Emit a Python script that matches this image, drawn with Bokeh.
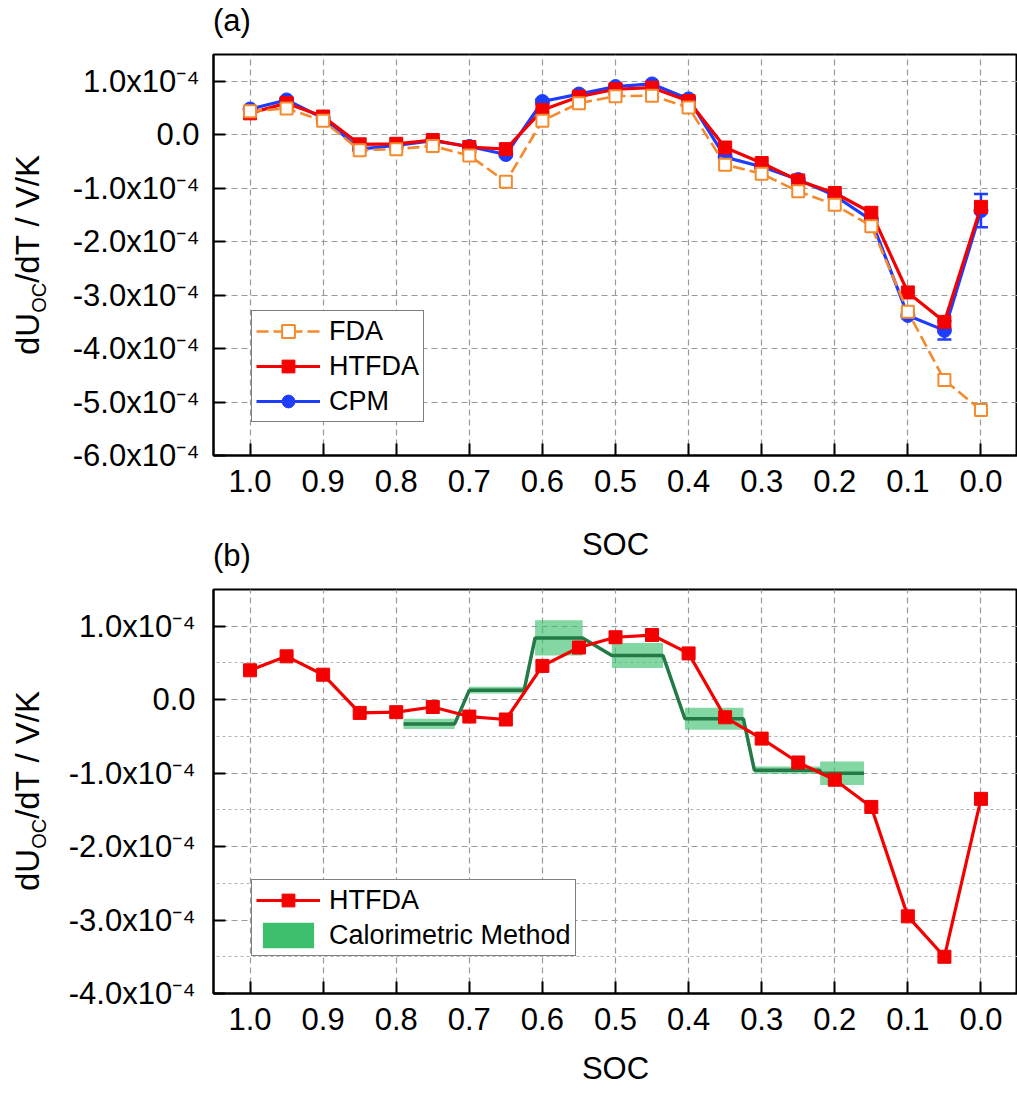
from bokeh.plotting import figure
from bokeh.models import (ColumnDataSource, Range1d, FixedTicker, Legend,
                          LegendItem, Whisker, TeeHead, Div)
from bokeh.layouts import column, row
from bokeh.embed import file_html
from bokeh.resources import INLINE

# ---------------- data (dUoc/dT values in units of 1e-4 V/K) ----------------
soc = [1.0, 0.95, 0.9, 0.85, 0.8, 0.75, 0.7, 0.65, 0.6, 0.55, 0.5,
       0.45, 0.4, 0.35, 0.3, 0.25, 0.2, 0.15, 0.1, 0.05, 0.0]
fda = [0.44, 0.49, 0.26, -0.29, -0.27, -0.21, -0.39, -0.88, 0.26, 0.59, 0.72,
       0.73, 0.51, -0.56, -0.73, -1.06, -1.31, -1.71, -3.31, -4.59, -5.15]
htfda = [0.40, 0.59, 0.34, -0.18, -0.17, -0.10, -0.23, -0.27, 0.46, 0.71, 0.85,
         0.88, 0.63, -0.24, -0.53, -0.855, -1.09, -1.46, -2.95, -3.50, -1.35]
cpm = [0.48, 0.65, 0.31, -0.27, -0.20, -0.11, -0.22, -0.37, 0.62, 0.76, 0.90,
       0.95, 0.67, -0.42, -0.60, -0.84, -1.14, -1.60, -3.38, -3.66, -1.42]
cpm_err = [0.03, 0.03, 0.03, 0.03, 0.03, 0.03, 0.03, 0.03, 0.04, 0.03, 0.03,
           0.03, 0.03, 0.04, 0.04, 0.04, 0.04, 0.04, 0.05, 0.17, 0.31]

# calorimetric method: SOC intervals, mean value and uncertainty
cal_soc_start = [0.79, 0.70, 0.61, 0.505, 0.405, 0.31, 0.22]
cal_soc_end = [0.72, 0.625, 0.545, 0.435, 0.325, 0.22, 0.16]
cal_value = [-0.33, 0.13, 0.84, 0.60, -0.26, -0.96, -1.00]
cal_err = [0.07, 0.045, 0.24, 0.17, 0.15, 0.05, 0.16]

xticks = [1.0, 0.9, 0.8, 0.7, 0.6, 0.5, 0.4, 0.3, 0.2, 0.1, 0.0]
xtick_labels = ["1.0", "0.9", "0.8", "0.7", "0.6", "0.5", "0.4", "0.3", "0.2", "0.1", "0.0"]
yticks_a = [-6, -5, -4, -3, -2, -1, 0, 1]
ytick_labels_a = ["-6.0x10\u207b\u2074", "-5.0x10\u207b\u2074", "-4.0x10\u207b\u2074",
                  "-3.0x10\u207b\u2074", "-2.0x10\u207b\u2074", "-1.0x10\u207b\u2074",
                  "0.0", "1.0x10\u207b\u2074"]
yticks_b = [-4, -3, -2, -1, 0, 1]
ytick_labels_b = ["-4.0x10\u207b\u2074", "-3.0x10\u207b\u2074", "-2.0x10\u207b\u2074",
                  "-1.0x10\u207b\u2074", "0.0", "1.0x10\u207b\u2074"]
yminor_b = [-3.5, -2.5, -1.5, -0.5, 0.5]
panel_titles = ["(a)", "(b)"]

# ---------------- style ----------------
FONT = "Liberation Sans"
ORANGE = "#f58a2c"
RED = "#f40000"
BLUE = "#1f3dff"
DKGREEN = "#237a46"
GREEN = "#3dc06e"
GRID = "#9a9a9a"
FS = "31px"
LEFT_W = 45


def make_fig(height, top, bottom, yr, yt, ylab, xlabel_standoff, yminor=None):
    p = figure(width=1017 - LEFT_W, height=height, x_range=Range1d(1.05, -0.05),
               y_range=Range1d(*yr), min_border_left=213 - LEFT_W, min_border_right=0,
               min_border_top=top, min_border_bottom=bottom,
               toolbar_location=None, output_backend="svg")
    p.background_fill_color = "white"
    p.border_fill_color = "white"
    p.outline_line_color = "black"
    p.outline_line_width = 2
    p.xaxis.ticker = FixedTicker(ticks=xticks)
    p.xaxis.major_label_overrides = dict(zip(xticks, xtick_labels))
    if yminor is not None:
        p.yaxis.ticker = FixedTicker(ticks=yt, minor_ticks=yminor)
    else:
        p.yaxis.ticker = FixedTicker(ticks=yt)
    p.yaxis.major_label_overrides = dict(zip(yt, ylab))
    for ax in (p.xaxis, p.yaxis):
        ax.axis_line_width = 2
        ax.axis_line_color = "black"
        ax.major_tick_in = 12
        ax.major_tick_out = 0
        ax.major_tick_line_width = 2
        ax.major_tick_line_color = "black"
        ax.minor_tick_line_color = None
        ax.major_label_text_font = FONT
        ax.major_label_text_font_size = FS
        ax.major_label_text_color = "black"
        ax.major_label_standoff = 14
    p.xaxis.axis_label = "SOC"
    p.xaxis.axis_label_text_font = FONT
    p.xaxis.axis_label_text_font_size = FS
    p.xaxis.axis_label_text_font_style = "normal"
    p.xaxis.axis_label_text_color = "black"
    p.xaxis.axis_label_standoff = xlabel_standoff
    for g in (p.xgrid, p.ygrid):
        g.grid_line_color = GRID
        g.grid_line_dash = "6 4"
        g.grid_line_width = 1.2
    if yminor is not None:
        p.ygrid.minor_grid_line_color = "#b4b4b4"
        p.ygrid.minor_grid_line_dash = "3 3"
        p.ygrid.minor_grid_line_width = 1.0
    return p


def style_legend(leg, loc):
    leg.location = loc
    leg.margin = 0
    leg.padding = 4
    leg.spacing = 3
    leg.glyph_width = 64
    leg.glyph_height = 32
    leg.label_standoff = 9
    leg.label_text_font = FONT
    leg.label_text_font_size = "27px"
    leg.label_text_color = "black"
    leg.label_text_baseline = "middle"
    leg.border_line_color = "black"
    leg.border_line_width = 1.3
    leg.background_fill_color = "white"
    leg.background_fill_alpha = 1.0
    leg.inactive_fill_alpha = 0.0


# ---------------- panel (a) ----------------
src = ColumnDataSource(dict(
    soc=soc, fda=fda, htfda=htfda, cpm=cpm,
    cpm_up=[c + e for c, e in zip(cpm, cpm_err)],
    cpm_lo=[c - e for c, e in zip(cpm, cpm_err)],
))

p1 = make_fig(575, 54, 120, (-6.0, 1.5), yticks_a, ytick_labels_a, 32)

cpm_line = p1.line("soc", "cpm", source=src, line_color=BLUE, line_width=3.2)
cpm_pts = p1.scatter("soc", "cpm", source=src, marker="circle", size=14,
                     fill_color=BLUE, line_color=BLUE)
wh = Whisker(base="soc", upper="cpm_up", lower="cpm_lo", source=src,
             line_color=BLUE, line_width=2.5,
             upper_head=TeeHead(size=14, line_color=BLUE, line_width=2.5),
             lower_head=TeeHead(size=14, line_color=BLUE, line_width=2.5))
p1.add_layout(wh)
ht_line = p1.line("soc", "htfda", source=src, line_color=RED, line_width=3.2)
ht_pts = p1.scatter("soc", "htfda", source=src, marker="square", size=13,
                    fill_color=RED, line_color=RED)
fda_line = p1.line("soc", "fda", source=src, line_color=ORANGE, line_width=2.6,
                   line_dash="12 5")
fda_pts = p1.scatter("soc", "fda", source=src, marker="square", size=12,
                     fill_color="white", line_color=ORANGE, line_width=2)

leg1 = Legend(items=[LegendItem(label="FDA", renderers=[fda_line, fda_pts]),
                     LegendItem(label="HTFDA", renderers=[ht_line, ht_pts]),
                     LegendItem(label="CPM", renderers=[cpm_line, cpm_pts])])
style_legend(leg1, (38, 33))
p1.add_layout(leg1)

# ---------------- panel (b) ----------------
p2 = make_fig(522, 14, 104, (-4.0, 1.5), yticks_b, ytick_labels_b, 18, yminor_b)

cal_src = ColumnDataSource(dict(
    left=cal_soc_start, right=cal_soc_end,
    top=[v + e for v, e in zip(cal_value, cal_err)],
    bottom=[v - e for v, e in zip(cal_value, cal_err)],
))
p2.quad(left="left", right="right", top="top", bottom="bottom", source=cal_src,
        fill_color=GREEN, fill_alpha=0.64, line_color=None)

step_x, step_y = [], []
for a, b, v in zip(cal_soc_start, cal_soc_end, cal_value):
    step_x += [a, b]
    step_y += [v, v]
p2.line(step_x, step_y, line_color=DKGREEN, line_width=3.5)

# solid swatch used only for the legend entry
swatch = p2.quad(left="left", right="right", top="top", bottom="bottom", source=cal_src,
                 fill_color=GREEN, fill_alpha=1.0, line_color=None, visible=False)

src2 = ColumnDataSource(dict(soc=soc, htfda=htfda))
ht2_line = p2.line("soc", "htfda", source=src2, line_color=RED, line_width=3.2)
ht2_pts = p2.scatter("soc", "htfda", source=src2, marker="square", size=13,
                     fill_color=RED, line_color=RED)

leg2 = Legend(items=[LegendItem(label="HTFDA", renderers=[ht2_line, ht2_pts]),
                     LegendItem(label="Calorimetric Method", renderers=[swatch])])
style_legend(leg2, (38, 37))
p2.add_layout(leg2)

# ---------------- y-axis titles (with subscript) and panel letters ----------------
span_style = ("position:absolute;left:28px;transform:translate(-50%,-50%) rotate(-90deg);"
              "white-space:nowrap;font-family:'Liberation Sans';font-size:33px;"
              "line-height:36px;color:black;")
sub_style = "font-size:20px;vertical-align:-7px;line-height:0;"
ylabel_html = "dU<sub style=\"%s\">OC</sub>/dT / V/K" % sub_style
letter_style = ("position:absolute;left:213px;transform:translateY(-50%);z-index:10;"
                "white-space:nowrap;font-family:'Liberation Sans';font-size:31px;"
                "line-height:36px;color:black;")
html = ('<div style="position:relative;width:%dpx;height:1097px;overflow:visible;">' % LEFT_W
        + '<span style="%stop:254.5px;">%s</span>' % (span_style, ylabel_html)
        + '<span style="%stop:791px;">%s</span>' % (span_style, ylabel_html)
        + '<span style="%stop:21px;">%s</span>' % (letter_style, panel_titles[0])
        + '<span style="%stop:556px;">%s</span>' % (letter_style, panel_titles[1])
        + '</div>')
ydiv = Div(text=html, width=LEFT_W, height=1097, margin=0,
           styles={"overflow": "visible", "z-index": "10"})

layout = row(ydiv, column(p1, p2, spacing=0), spacing=0)
open("out.html", "w").write(file_html(layout, INLINE))
